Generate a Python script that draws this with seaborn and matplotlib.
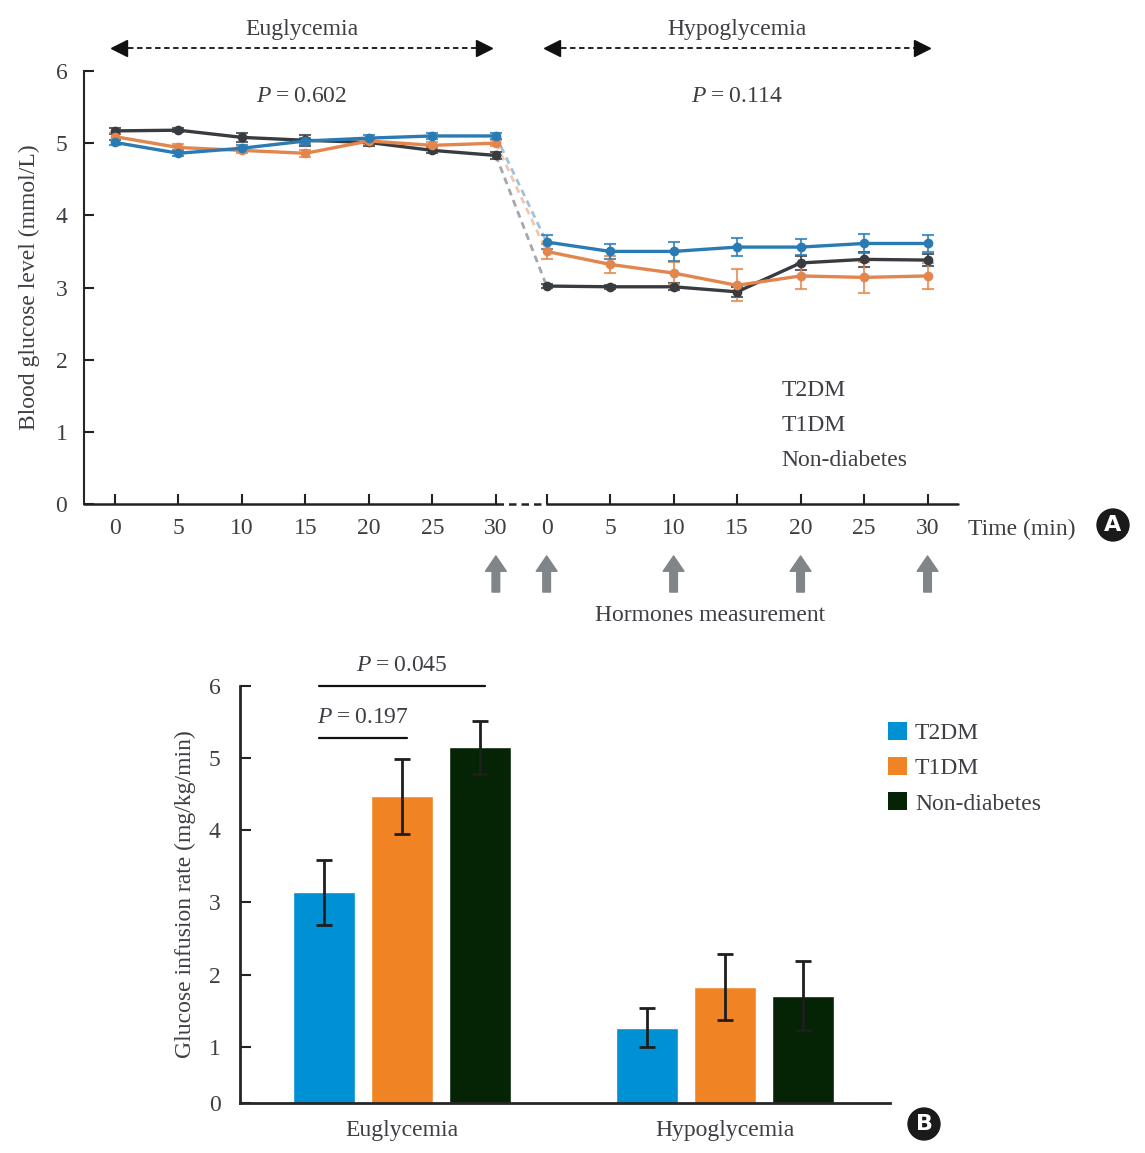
import numpy as np
import pandas as pd
import seaborn as sns
import matplotlib.pyplot as plt
from matplotlib.patches import Patch
import matplotlib.transforms as mtransforms

# ---- data: panel A (blood glucose during clamp) ----
groups = ['T2DM', 'T1DM', 'Non-diabetes']
minutes = [0, 5, 10, 15, 20, 25, 30]
eu_glucose = {
    'T2DM': [5.01, 4.86, 4.93, 5.03, 5.07, 5.10, 5.10],
    'T1DM': [5.09, 4.94, 4.90, 4.86, 5.03, 4.97, 5.00],
    'Non-diabetes': [5.17, 5.18, 5.08, 5.04, 5.01, 4.90, 4.83],
}
eu_sem = {
    'T2DM': [0.04, 0.04, 0.04, 0.04, 0.04, 0.04, 0.04],
    'T1DM': [0.05, 0.05, 0.04, 0.05, 0.04, 0.04, 0.04],
    'Non-diabetes': [0.04, 0.03, 0.06, 0.08, 0.05, 0.04, 0.05],
}
hypo_glucose = {
    'T2DM': [3.63, 3.50, 3.50, 3.56, 3.56, 3.61, 3.61],
    'T1DM': [3.50, 3.32, 3.20, 3.03, 3.16, 3.14, 3.16],
    'Non-diabetes': [3.02, 3.01, 3.01, 2.94, 3.34, 3.39, 3.38],
}
hypo_sem = {
    'T2DM': [0.10, 0.10, 0.13, 0.12, 0.11, 0.13, 0.12],
    'T1DM': [0.10, 0.12, 0.15, 0.22, 0.18, 0.22, 0.18],
    'Non-diabetes': [0.03, 0.03, 0.05, 0.07, 0.10, 0.10, 0.08],
}
hormone_times = [('eu', 30), ('hypo', 0), ('hypo', 10), ('hypo', 20), ('hypo', 30)]

# ---- data: panel B (glucose infusion rate) ----
phases = ['Euglycemia', 'Hypoglycemia']
gir_mean = {
    'T2DM': [3.14, 1.26],
    'T1DM': [4.47, 1.83],
    'Non-diabetes': [5.15, 1.71],
}
gir_err = {
    'T2DM': [0.45, 0.27],
    'T1DM': [0.52, 0.46],
    'Non-diabetes': [0.37, 0.48],
}

line_colors = {'T2DM': '#2a7bb4', 'T1DM': '#e2864e', 'Non-diabetes': '#383c40'}
bar_colors = {'T2DM': '#0091d5', 'T1DM': '#f08424', 'Non-diabetes': '#052405'}
HYPO_OFFSET = 34  # gap between the two time axes (in minutes of axis space)

sns.set_style('ticks')
plt.rcParams['font.family'] = ['Liberation Serif', 'DejaVu Serif']
plt.rcParams['mathtext.fontset'] = 'custom'
plt.rcParams['mathtext.it'] = 'Liberation Serif:italic'
plt.rcParams['mathtext.rm'] = 'Liberation Serif'
plt.rcParams['axes.linewidth'] = 1.5
text_c = '#3d3f44'
FS = 17
TS = u'\u2009'


def ptext(p):
    return f'$\\it{{P}}${TS}={TS}{p}'


fig = plt.figure(figsize=(11.45, 11.53), dpi=100)

# ================= panel A =================
axA = fig.add_axes([84 / 1145, 1 - 504 / 1153, 874 / 1145, 433 / 1153])

rows = []
for g in groups:
    for i, t in enumerate(minutes):
        rows.append(dict(group=g, phase='eu', pos=t, glucose=eu_glucose[g][i], err=eu_sem[g][i]))
    for i, t in enumerate(minutes):
        rows.append(dict(group=g, phase='hypo', pos=t + HYPO_OFFSET,
                         glucose=hypo_glucose[g][i], err=hypo_sem[g][i]))
df = pd.DataFrame(rows)

# dashed transition between the end of euglycemia and start of hypoglycemia
for g in groups:
    axA.plot([minutes[-1], HYPO_OFFSET], [eu_glucose[g][-1], hypo_glucose[g][0]],
             ls=(0, (2.5, 1.8)), lw=2, color=line_colors[g], alpha=0.45, zorder=1)

for g in groups[::-1]:
    d = df[df['group'] == g]
    axA.errorbar(d['pos'], d['glucose'], yerr=d['err'], fmt='none', ecolor=line_colors[g],
                 elinewidth=1.5, capsize=4, capthick=1.5, alpha=0.8, zorder=2)
sns.lineplot(data=df, x='pos', y='glucose', hue='group', units='phase', estimator=None,
             palette=line_colors, hue_order=groups[::-1], marker='o', markersize=7,
             markeredgewidth=0, lw=2.4, legend=False, ax=axA, zorder=3)

axA.set_xlim(-2.44, 66.4)
axA.set_ylim(0, 6)
xticks = minutes + [t + HYPO_OFFSET for t in minutes]
axA.set_xticks(xticks)
axA.set_xticklabels([str(t) for t in minutes] * 2)
axA.set_yticks(range(7))
axA.tick_params(direction='in', length=7, width=1.5, labelsize=FS, colors='#222222',
                labelcolor=text_c)
axA.tick_params(axis='x', pad=10)
axA.tick_params(axis='y', pad=12)
axA.set_xlabel('')
axA.set_ylabel('Blood glucose level (mmol/L)', fontsize=FS, color=text_c, labelpad=11)
sns.despine(ax=axA)
axA.spines['bottom'].set_visible(False)
tr = mtransforms.blended_transform_factory(axA.transData, axA.transAxes)
axA.plot([-2.44, minutes[-1]], [0, 0], color='#222222', lw=1.8, transform=tr, clip_on=False)
axA.plot([minutes[-1], HYPO_OFFSET], [0, 0], color='#222222', lw=1.8, ls=(0, (3, 2)),
         transform=tr, clip_on=False)
axA.plot([HYPO_OFFSET, 66.4], [0, 0], color='#222222', lw=1.8, transform=tr, clip_on=False)

# phase headers with dashed double arrows
for x0, x1, label, p in [(0.3, 29.1, 'Euglycemia', '0.602'),
                         (HYPO_OFFSET + 0.4, HYPO_OFFSET + 29.6, 'Hypoglycemia', '0.114')]:
    axA.plot([x0, x1], [6.32, 6.32], color='#111111', lw=1.3, ls=(0, (3, 2)),
             clip_on=False)
    axA.plot([x0], [6.32], marker='<', ms=11, color='#111111', clip_on=False)
    axA.plot([x1], [6.32], marker='>', ms=11, color='#111111', clip_on=False)
    xc = (x0 + x1) / 2
    axA.text(xc, 6.58, label, ha='center', va='center', fontsize=FS, color=text_c)
    axA.text(xc, 5.65, ptext(p), ha='center', va='center', fontsize=FS, color=text_c)

# group labels
for i, g in enumerate(groups):
    axA.text(52.5, 1.57 - i * 0.485, g, ha='left', va='center', fontsize=FS, color=text_c)

# hormone measurement arrows
for phase, t in hormone_times:
    x = t if phase == 'eu' else t + HYPO_OFFSET
    axA.annotate('', xy=(x, -0.72), xytext=(x, -1.22),
                 arrowprops=dict(arrowstyle='simple,head_width=1.5,head_length=1.1,tail_width=0.55',
                                 color='#80858a', shrinkA=0, shrinkB=0),
                 annotation_clip=False, fontsize=10)
axA.text(46.9, -1.55, 'Hormones measurement', ha='center', va='center', fontsize=FS,
         color=text_c)
axA.text(67.2, -0.35, 'Time (min)', ha='left', va='center', fontsize=FS, color=text_c)

# ================= panel B =================
axB = fig.add_axes([240 / 1145, 1 - 1103 / 1153, 650 / 1145, 417 / 1153])
bdf = pd.DataFrame([dict(phase=ph, group=g, rate=gir_mean[g][j])
                    for j, ph in enumerate(phases) for g in groups])
sns.barplot(data=bdf, x='phase', y='rate', hue='group', hue_order=groups, order=phases,
            palette=bar_colors, width=0.7245, gap=0.205, errorbar=None, saturation=1,
            ax=axB)

centers = {}
for g, cont in zip(groups, axB.containers):
    xs = [p.get_x() + p.get_width() / 2 for p in cont.patches]
    centers[g] = xs
    axB.errorbar(xs, gir_mean[g], yerr=gir_err[g], fmt='none', ecolor='#1e1e1e',
                 elinewidth=2, capsize=6, capthick=2, zorder=3)

axB.set_xlim(-0.502, 1.511)
ybot = 0.22
axB.set_ylim(ybot, 6)
axB.set_yticks([ybot, 1, 2, 3, 4, 5, 6])
axB.set_yticklabels(['0', '1', '2', '3', '4', '5', '6'])
axB.tick_params(direction='in', length=8, width=1.5, labelsize=FS, colors='#222222',
                labelcolor=text_c)
axB.tick_params(axis='y', pad=14)
axB.tick_params(axis='x', length=0, pad=12)
axB.set_xlabel('')
axB.set_ylabel('Glucose infusion rate (mg/kg/min)', fontsize=FS, color=text_c, labelpad=9)
sns.despine(ax=axB)
for s in ['left', 'bottom']:
    axB.spines[s].set_linewidth(2)

# significance brackets
x_t2 = centers['T2DM'][0] - 0.015
for g, y, p in [('T1DM', 5.28, '0.197'), ('Non-diabetes', 6.0, '0.045')]:
    x_end = centers[g][0] + 0.015
    axB.plot([x_t2, x_end], [y, y], color='#111111', lw=1.6, clip_on=False)
    axB.text((x_t2 + x_end) / 2, y + 0.28, ptext(p), ha='center', va='center',
             fontsize=FS, color=text_c, clip_on=False)

handles = [Patch(facecolor=bar_colors[g], edgecolor='none', label=g) for g in groups]
axB.legend(handles=handles, loc='upper left', bbox_to_anchor=(867 / 1145, 1 - 701 / 1153),
           bbox_transform=fig.transFigure, frameon=False, fontsize=FS, handlelength=0.78,
           handleheight=0.78, handletextpad=0.35, labelspacing=0.55, labelcolor=text_c)

# panel badges
for x, y, lab in [(1113, 525, 'A'), (924, 1124, 'B')]:
    fig.text(x / 1145, 1 - y / 1153, lab, ha='center', va='center', fontsize=16,
             fontweight='bold', color='white', family='DejaVu Sans',
             bbox=dict(boxstyle='circle,pad=0.3', facecolor='#1a1a1a', edgecolor='none'))

fig.savefig('out.png', dpi=100)
